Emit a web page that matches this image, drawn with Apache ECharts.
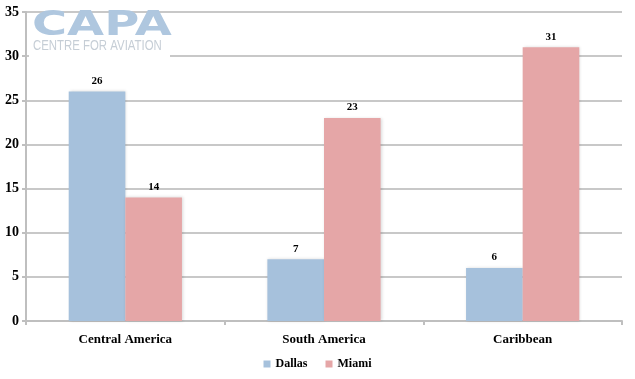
<!DOCTYPE html>
<html><head><meta charset="utf-8">
<script src="https://cdn.jsdelivr.net/npm/echarts@6/dist/echarts.min.js"></script>
<style>html,body{margin:0;padding:0;background:#fff}#c{width:635px;height:379px}</style>
</head><body><div id="c"></div>
<script>
const categories = ['Central America', 'South America', 'Caribbean'];
const dallas = [26, 7, 6];
const miami = [14, 23, 31];
const yTicks = [0, 5, 10, 15, 20, 25, 30, 35];

const font = '"Liberation Serif", "DejaVu Serif", serif';
const chart = echarts.init(document.getElementById('c'));
const lbl = {show: true, position: 'top', color: '#000', fontFamily: font, fontWeight: 'bold', fontSize: 11, distance: 5};
chart.setOption({
  animation: false,
  grid: {left: 26, right: 13, top: 12, bottom: 58},
  graphic: [
    {type: 'rect', z: 10, shape: {x: 29, y: 13, width: 141, height: 48}, style: {fill: '#fff'}},
    {type: 'text', x: 32, y: 10, scaleX: 1.45, z: 11, style: {text: 'CAPA', fontSize: 33, fontWeight: 'bold', fontFamily: 'DejaVu Sans', fill: '#afc7df', verticalAlign: 'top'}},
    {type: 'text', x: 33, y: 39, scaleX: 0.95, scaleY: 1.2, z: 11, style: {text: 'CENTRE FOR AVIATION', fontSize: 12, fontFamily: 'Liberation Sans', fill: '#c6ced6', verticalAlign: 'top'}}
  ],
  legend: {bottom: 4, left: 'center', itemWidth: 7, itemHeight: 7, itemGap: 18, icon: 'rect',
    textStyle: {fontFamily: font, fontSize: 12, color: '#000', fontWeight: 'bold'}, data: ['Dallas', 'Miami']},
  xAxis: {type: 'category', data: categories,
    axisLine: {lineStyle: {color: '#bfbfbf', width: 2}},
    axisTick: {show: true, length: 4, alignWithLabel: false, lineStyle: {color: '#bfbfbf', width: 2}},
    axisLabel: {color: '#000', fontFamily: font, fontWeight: 'bold', fontSize: 13, margin: 12}},
  yAxis: {type: 'value', min: yTicks[0], max: yTicks[yTicks.length - 1], interval: 5,
    axisLine: {show: true, lineStyle: {color: '#bfbfbf', width: 2}},
    axisTick: {show: true, length: 4, lineStyle: {color: '#bfbfbf', width: 2}},
    splitLine: {lineStyle: {color: '#c8c8c8', width: 2}},
    axisLabel: {color: '#000', fontFamily: font, fontWeight: 'bold', fontSize: 14, margin: 7}},
  series: [
    {name: 'Dallas', type: 'bar', data: dallas, barGap: '0%', barCategoryGap: '43%', z: 3,
      itemStyle: {color: '#a6c1dc', shadowColor: 'rgba(0,0,0,0.15)', shadowBlur: 3, shadowOffsetX: 1}, label: lbl},
    {name: 'Miami', type: 'bar', data: miami, barGap: '0%', barCategoryGap: '43%', z: 3,
      itemStyle: {color: '#e5a6a7', shadowColor: 'rgba(0,0,0,0.15)', shadowBlur: 3, shadowOffsetX: 1}, label: lbl}
  ]
});
</script></body></html>
